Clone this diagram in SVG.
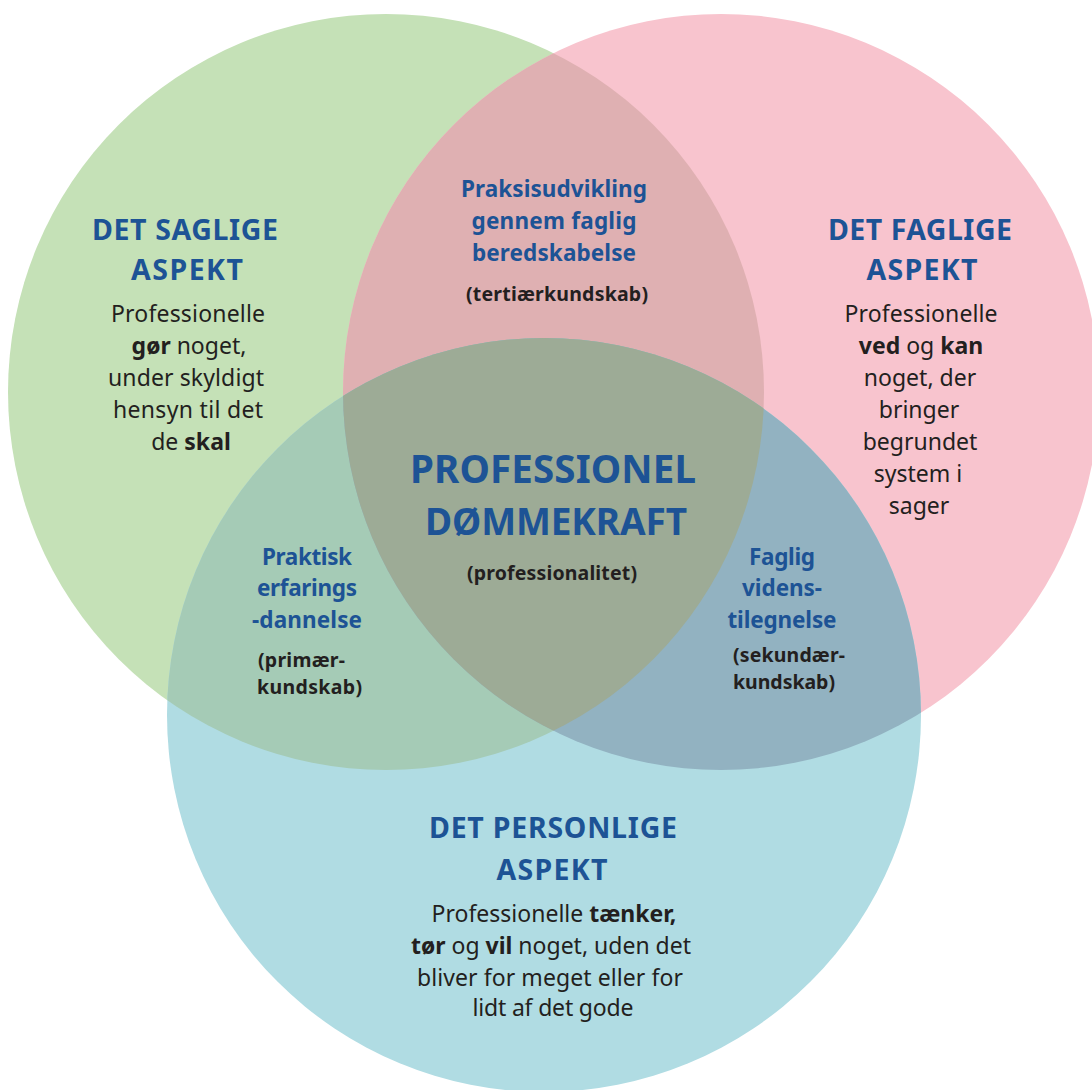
<svg xmlns="http://www.w3.org/2000/svg" width="1092" height="1090" viewBox="0 0 1092 1090">
<defs>
<clipPath id="cG"><circle cx="386" cy="392" r="378"/></clipPath>
<clipPath id="cP"><circle cx="721" cy="392" r="378"/></clipPath>
<style>
text{font-family:"Noto Sans","Open Sans","DejaVu Sans",sans-serif;text-anchor:middle}
.h{font-weight:700;font-size:28.5px;fill:#1d5395}
.hc{font-weight:700;font-size:38.5px;fill:#1d5395}
.l{font-weight:700;font-size:22.5px;fill:#1d5395}
.b{font-size:23px;fill:#231f20}
.s{font-weight:700;font-size:19.5px;fill:#231f20}
.st{text-anchor:start}
.k{font-weight:700}
</style>
</defs>
<rect width="1092" height="1090" fill="#ffffff"/>
<g id="circles">
<circle id="green" cx="386" cy="392" r="378" fill="#c5e1b7"/>
<circle id="pink" cx="721" cy="392" r="378" fill="#f8c4ce"/>
<circle id="blue" cx="544" cy="715" r="377" fill="#b0dce3"/>
<circle cx="721" cy="392" r="378" fill="#dfb0b2" clip-path="url(#cG)"/>
<circle cx="544" cy="715" r="377" fill="#a5cbb6" clip-path="url(#cG)"/>
<circle cx="544" cy="715" r="377" fill="#92b2c1" clip-path="url(#cP)"/>
<g clip-path="url(#cP)"><circle cx="544" cy="715" r="377" fill="#9dab96" clip-path="url(#cG)"/></g>
</g>
<g id="saglige">
<text class="h" x="185" y="240" textLength="186" lengthAdjust="spacing">DET SAGLIGE</text>
<text class="h" x="187" y="280" textLength="112" lengthAdjust="spacing">ASPEKT</text>
<text class="b" x="188" y="322" textLength="154" lengthAdjust="spacing">Professionelle</text>
<text class="b" x="189" y="354"><tspan class="k">gør</tspan> noget,</text>
<text class="b" x="186" y="386" textLength="156" lengthAdjust="spacing">under skyldigt</text>
<text class="b" x="188" y="418" textLength="150" lengthAdjust="spacing">hensyn til det</text>
<text class="b" x="191" y="450">de <tspan class="k">skal</tspan></text>
</g>
<g id="faglige">
<text class="h" x="920" y="240" textLength="184" lengthAdjust="spacing">DET FAGLIGE</text>
<text class="h" x="922" y="280" textLength="111" lengthAdjust="spacing">ASPEKT</text>
<text class="b" x="921" y="322" textLength="153" lengthAdjust="spacing">Professionelle</text>
<text class="b" x="921" y="354"><tspan class="k">ved</tspan> og <tspan class="k">kan</tspan></text>
<text class="b" x="920" y="386">noget, der</text>
<text class="b" x="919" y="418">bringer</text>
<text class="b" x="920" y="450">begrundet</text>
<text class="b" x="918" y="482">system i</text>
<text class="b" x="919" y="514">sager</text>
</g>
<g id="personlige">
<text class="h" x="553" y="838" textLength="248" lengthAdjust="spacing">DET PERSONLIGE</text>
<text class="h" x="552" y="880" textLength="111" lengthAdjust="spacing">ASPEKT</text>
<text class="b" x="554" y="922">Professionelle <tspan class="k">tænker,</tspan></text>
<text class="b" x="551" y="954"><tspan class="k">tør</tspan> og <tspan class="k">vil</tspan> noget, uden det</text>
<text class="b" x="550" y="986" textLength="266" lengthAdjust="spacing">bliver for meget eller for</text>
<text class="b" x="553" y="1016" textLength="161" lengthAdjust="spacing">lidt af det gode</text>
</g>
<g id="tertiaer">
<text class="l" x="554" y="197" textLength="186" lengthAdjust="spacing">Praksisudvikling</text>
<text class="l" x="554" y="229" textLength="165" lengthAdjust="spacing">gennem faglig</text>
<text class="l" x="554" y="261" textLength="164" lengthAdjust="spacing">beredskabelse</text>
<text class="s" x="557" y="301" textLength="182" lengthAdjust="spacing">(tertiærkundskab)</text>
</g>
<g id="primaer">
<text class="l" x="307" y="565" textLength="90" lengthAdjust="spacing">Praktisk</text>
<text class="l" x="307" y="596" textLength="100" lengthAdjust="spacing">erfarings</text>
<text class="l" x="307" y="628" textLength="110" lengthAdjust="spacing">-dannelse</text>
<text class="s st" x="258" y="667" textLength="87" lengthAdjust="spacing">(primær-</text>
<text class="s st" x="257" y="694" textLength="105" lengthAdjust="spacing">kundskab)</text>
</g>
<g id="sekundaer">
<text class="l" x="782" y="565" textLength="66" lengthAdjust="spacing">Faglig</text>
<text class="l" x="782" y="596" textLength="80" lengthAdjust="spacing">videns-</text>
<text class="l" x="782" y="628" textLength="109" lengthAdjust="spacing">tilegnelse</text>
<text class="s st" x="733" y="662" textLength="112" lengthAdjust="spacing">(sekundær-</text>
<text class="s st" x="733" y="689" textLength="102" lengthAdjust="spacing">kundskab)</text>
</g>
<g id="professionel">
<text class="hc" x="553" y="483" textLength="286" lengthAdjust="spacing">PROFESSIONEL</text>
<text class="hc" x="556" y="535" textLength="262" lengthAdjust="spacing" style="font-size:37px">DØMMEKRAFT</text>
<text class="s" x="552" y="580" textLength="170" lengthAdjust="spacing">(professionalitet)</text>
</g>
</svg>
